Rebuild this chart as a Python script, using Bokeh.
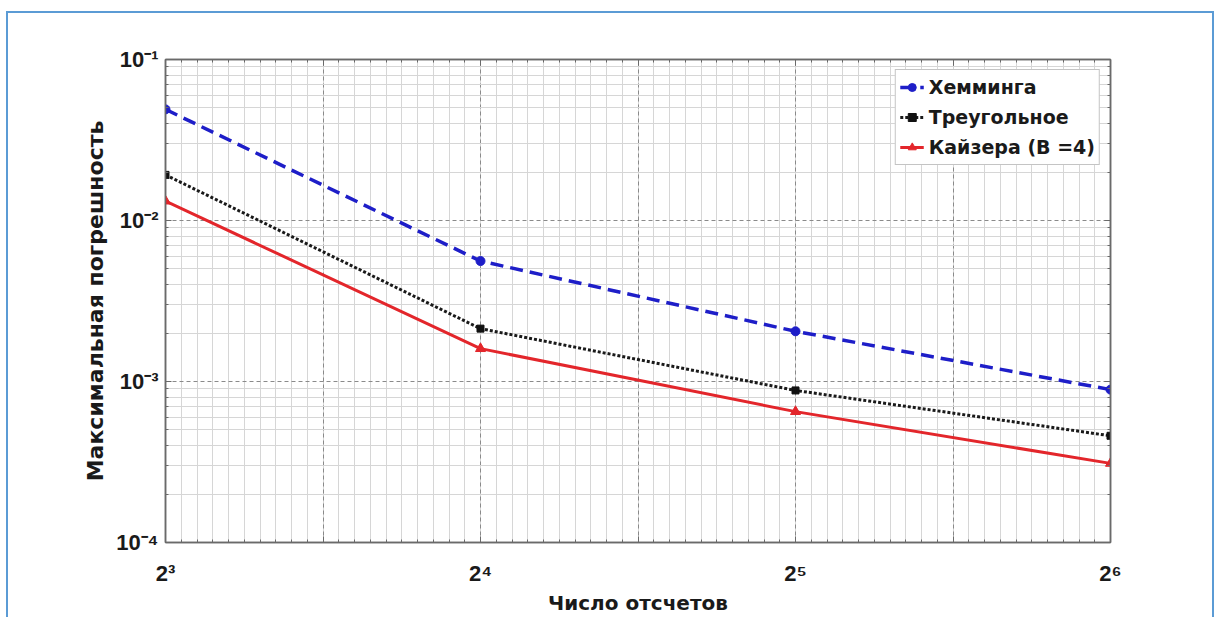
from bokeh.plotting import figure
from bokeh.layouts import column
from bokeh.models import (Range1d, FixedTicker, Legend, LegendItem,
                          LogAxis, CustomJSTickFormatter)
from bokeh.embed import file_html
from bokeh.resources import INLINE

# Number of samples (x) and maximum error for each window (y)
n_samples = [8, 16, 32, 64]
err_hamming = [0.049, 0.0056, 0.00205, 0.00089]
err_triangular = [0.0192, 0.00213, 0.00088, 0.00046]
err_kaiser = [0.0132, 0.0016, 0.00065, 0.00031]

series_names = ["Хемминга", "Треугольное", "Кайзера (B =4)"]

# Tick label exponents
x_tick_powers = [3, 4, 5, 6]
y_tick_powers = [-4, -3, -2, -1]

x_title = "Число отсчетов"
y_title = "Максимальная погрешность"

FONT = "DejaVu Sans"
TICK_FONT = "Liberation Sans"
TEXT_COLOR = "#1a1a1a"
AXIS_COLOR = "#6a6a6a"

SUP = str.maketrans("-0123456789", "\u207b\u2070\u00b9\u00b2\u00b3\u2074\u2075\u2076\u2077\u2078\u2079")


def power_label(base, e):
    return base + str(e).translate(SUP)


x_lo, x_hi = 2.0 ** x_tick_powers[0], 2.0 ** x_tick_powers[-1]
y_lo, y_hi = 10.0 ** y_tick_powers[0], 10.0 ** y_tick_powers[-1]

p = figure(width=1204, height=604,
           x_axis_type="log", y_axis_type="log",
           x_range=Range1d(x_lo, x_hi), y_range=Range1d(y_lo, y_hi),
           output_backend="svg", toolbar_location=None,
           min_border_left=157, min_border_right=102,
           min_border_top=46, min_border_bottom=70,
           background_fill_color="white", border_fill_color="white")

# Major grid every half octave, minor grid every 1/20 octave
p0, p1 = x_tick_powers[0], x_tick_powers[-1]
x_major = [2.0 ** (p0 + 0.5 * k) for k in range(int((p1 - p0) * 2) + 1)]
x_minor = [2.0 ** (p0 + 0.05 * k) for k in range(int((p1 - p0) * 20) + 1)]
y_major = [10.0 ** e for e in y_tick_powers]
y_minor = [m * 10.0 ** e for e in y_tick_powers[:-1] for m in range(2, 10)]

x_ticker = FixedTicker(ticks=x_major, minor_ticks=x_minor)
y_ticker = FixedTicker(ticks=y_major, minor_ticks=y_minor)
blank = CustomJSTickFormatter(code="return ''")

p.xaxis.ticker = x_ticker
p.yaxis.ticker = y_ticker
p.xaxis.formatter = blank
p.yaxis.formatter = blank
p.xaxis.major_label_overrides = {2.0 ** e: power_label("2", e) for e in x_tick_powers}
p.yaxis.major_label_overrides = {10.0 ** e: power_label("10", e) for e in y_tick_powers}

for ax in (p.xaxis, p.yaxis):
    ax.axis_line_color = AXIS_COLOR
    ax.axis_line_width = 1.5
    ax.major_tick_line_color = AXIS_COLOR
    ax.minor_tick_line_color = AXIS_COLOR
    ax.major_tick_in = 6
    ax.major_tick_out = 0
    ax.minor_tick_in = 3
    ax.minor_tick_out = 0
    ax.major_label_text_font = TICK_FONT
    ax.major_label_text_font_style = "bold"
    ax.major_label_text_font_size = "22px"
    ax.major_label_text_color = TEXT_COLOR
    ax.axis_label_text_font = FONT
    ax.axis_label_text_font_style = "bold"
    ax.axis_label_text_color = TEXT_COLOR

p.xaxis.axis_label_text_font_size = "20px"
p.yaxis.axis_label_text_font_size = "22px"
p.xaxis.major_label_standoff = 18
p.yaxis.major_label_standoff = 7
p.xaxis.axis_label = x_title
p.yaxis.axis_label = y_title
p.xaxis.axis_label_standoff = 2
p.yaxis.axis_label_standoff = 5

for side, tk in (("right", y_ticker), ("above", x_ticker)):
    extra = LogAxis(ticker=tk, formatter=blank,
                    axis_line_color=AXIS_COLOR, axis_line_width=1.5,
                    major_tick_line_color=AXIS_COLOR,
                    minor_tick_line_color=AXIS_COLOR,
                    major_tick_in=6, major_tick_out=0,
                    minor_tick_in=3, minor_tick_out=0)
    p.add_layout(extra, side)

for g in (p.xgrid, p.ygrid):
    g.grid_line_color = "#8a8a8a"
    g.grid_line_dash = "4 3"
    g.grid_line_width = 1
    g.minor_grid_line_color = "#d6d6d6"
    g.minor_grid_line_width = 1

p.outline_line_color = AXIS_COLOR
p.outline_line_width = 1.5

# Data series
l1 = p.line(n_samples, err_hamming, line_color="#1e1ec8", line_width=3.5,
            line_dash="13 7")
s1 = p.scatter(n_samples, err_hamming, marker="circle", size=9,
               fill_color="#1e1ec8", line_color="#1e1ec8")
l2 = p.line(n_samples, err_triangular, line_color="#1a1a1a", line_width=3,
            line_dash="3 2")
s2 = p.scatter(n_samples, err_triangular, marker="square", size=7,
               fill_color="#111111", line_color="#111111")
l3 = p.line(n_samples, err_kaiser, line_color="#e3262b", line_width=3)
s3 = p.scatter(n_samples, err_kaiser, marker="triangle", size=10,
               fill_color="#e3262b", line_color="#e3262b")

legend = Legend(items=[LegendItem(label=series_names[0], renderers=[l1, s1]),
                       LegendItem(label=series_names[1], renderers=[l2, s2]),
                       LegendItem(label=series_names[2], renderers=[l3, s3])],
                location="top_right", margin=10, padding=4, spacing=4,
                label_height=26, glyph_height=20, glyph_width=24,
                label_standoff=5,
                label_text_font=FONT, label_text_font_style="bold",
                label_text_font_size="19px", label_text_color=TEXT_COLOR,
                border_line_color="#8a8a8a", border_line_width=1,
                background_fill_color="white", background_fill_alpha=1.0)
p.add_layout(legend)

page = column(p, margin=(11, 0, 0, 6),
              styles={"border-top": "2px solid #5b9bd5",
                      "border-left": "2px solid #5b9bd5",
                      "border-right": "2px solid #5b9bd5"})

open("out.html", "w").write(file_html(page, INLINE))
